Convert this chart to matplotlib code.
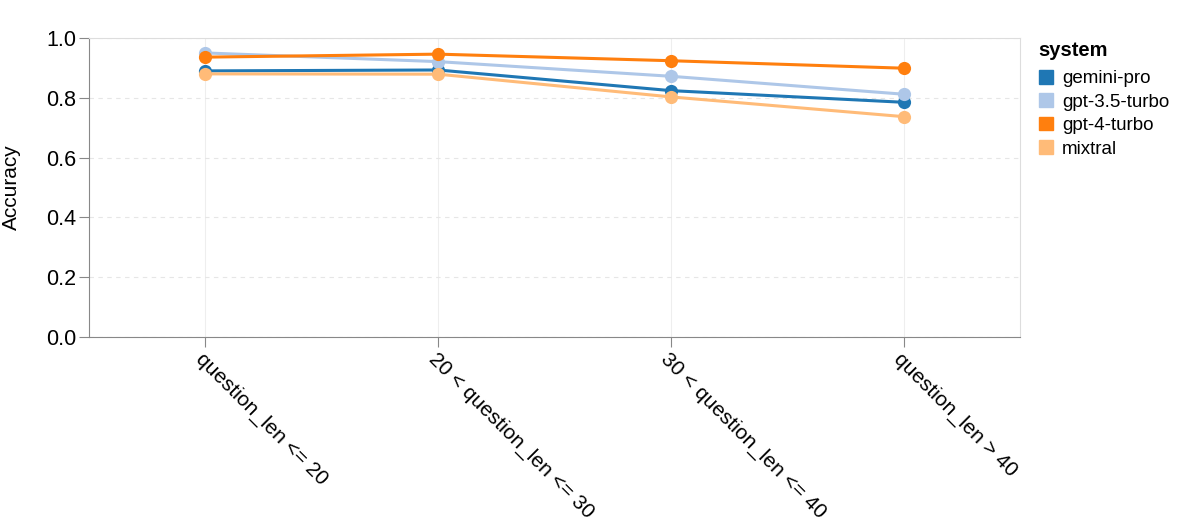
import matplotlib.pyplot as plt
from matplotlib.patches import Patch

plt.rcParams['font.family'] = ['Liberation Sans', 'DejaVu Sans']

categories = ["question_len <= 20", "20 < question_len <= 30",
              "30 < question_len <= 40", "question_len > 40"]
systems = ["gemini-pro", "gpt-3.5-turbo", "gpt-4-turbo", "mixtral"]
gemini_pro = [0.890, 0.893, 0.824, 0.785]
gpt_35_turbo = [0.950, 0.921, 0.872, 0.812]
gpt_4_turbo = [0.936, 0.946, 0.924, 0.899]
mixtral = [0.880, 0.879, 0.803, 0.737]
colors = ["#1f77b4", "#aec7e8", "#ff7f0e", "#ffbb78"]

fig = plt.figure(figsize=(11.96, 5.23), dpi=100)
ax = fig.add_axes([89 / 1196, (523 - 337) / 523, (1020 - 89) / 1196, (337 - 38) / 523])

xs = list(range(len(categories)))
for vals, col in zip([gemini_pro, gpt_35_turbo, gpt_4_turbo, mixtral], colors):
    ax.plot(xs, vals, color=col, linewidth=2.2, marker="o", markersize=9.5,
            markeredgewidth=0, zorder=3)

ax.set_xlim(-0.5, len(categories) - 0.5)
ax.set_ylim(0, 1.0)
ax.set_yticks([0, 0.2, 0.4, 0.6, 0.8, 1.0])
ax.set_yticklabels(["0.0", "0.2", "0.4", "0.6", "0.8", "1.0"], fontsize=15.5)
ax.set_xticks(xs)
ax.set_xticklabels(categories, rotation=-45, ha="left", va="top",
                   rotation_mode="anchor", fontsize=15)
ax.set_ylabel("Accuracy", fontsize=15)
ax.yaxis.set_label_coords(-0.073, 0.5)

ax.grid(axis="y", color="#e6e6e6", linestyle=(0, (4, 4)), linewidth=0.8)
ax.grid(axis="x", color="#eeeeee", linestyle="-", linewidth=0.8)
ax.set_axisbelow(True)
for side in ["top", "right"]:
    ax.spines[side].set_color("#dddddd")
for side in ["left", "bottom"]:
    ax.spines[side].set_color("#888888")
ax.tick_params(colors="#888888", labelcolor="black", length=7, width=0.8, pad=2)

handles = [Patch(facecolor=c, edgecolor=c) for c in colors]
leg = fig.legend(handles, systems, title="system", loc="upper left",
                 bbox_to_anchor=(1031 / 1196, 1 - 33 / 523), frameon=False,
                 fontsize=13.5, title_fontsize=14.5, handlelength=0.75,
                 handleheight=0.75, handletextpad=0.5, labelspacing=0.32,
                 borderaxespad=0)
leg.get_title().set_fontweight("bold")
leg._legend_box.align = "left"
leg._legend_box.sep = 7.5

fig.savefig("out.png", dpi=100)
